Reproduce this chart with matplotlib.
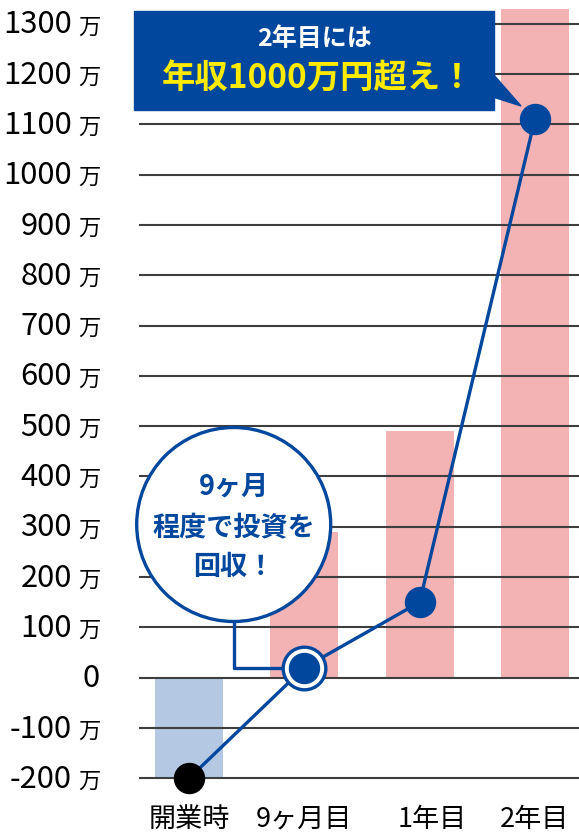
import matplotlib.pyplot as plt
from matplotlib.patches import Rectangle, Ellipse, Polygon
from matplotlib.transforms import blended_transform_factory

plt.rcParams['font.family'] = ['Noto Sans CJK JP', 'DejaVu Sans']

# data
categories = ['開業時', '9ヶ月目', '1年目', '2年目']
bar_values = [-200, 290, 490, 1330]
line_values = [-200, 20, 150, 1110]
y_ticks = [-200, -100, 0, 100, 200, 300, 400, 500, 600, 700,
           800, 900, 1000, 1100, 1200, 1300]

W, H = 579, 840
blue = '#00479D'
pink = '#F3B2B4'
lightblue = '#B4C8E3'
grid_col = '#3E3E3E'

fig = plt.figure(figsize=(W / 100, H / 100), dpi=100)
ax = fig.add_axes([139 / W, 0, 1 - 139 / W, 1])

x = list(range(len(categories)))
bar_colors = [lightblue, pink, pink, pink]
ax.bar(x, bar_values, width=0.59, color=bar_colors, zorder=1)

ax.set_xlim(-0.434, 3.383)
ax.set_ylim(-322.7, 1347.3)
ax.set_yticks(y_ticks)
ax.grid(axis='y', color=grid_col, lw=1.5)
ax.set_axisbelow(False)
ax.tick_params(length=0, labelleft=False, labelbottom=False)
for s in ax.spines.values():
    s.set_visible(False)

# line + markers
ax.plot(x, line_values, color=blue, lw=2.4, zorder=4)
ax.plot(x[0], line_values[0], 'o', color='black', ms=21.6, zorder=5)
ax.plot(x[2:], line_values[2:], 'o', color=blue, ms=21.6, zorder=5)
ax.plot(x[1], line_values[1], 'o', mfc='white', mec=blue, mew=2.4, ms=30.7, zorder=5)
ax.plot(x[1], line_values[1], 'o', color=blue, ms=21.6, zorder=6)

# y labels (number + small 万)
tr = blended_transform_factory(fig.transFigure, ax.transData)
for v in y_ticks:
    if v == 0:
        ax.text(100 / W, v - 19, '0', transform=tr, ha='right', va='baseline',
                fontsize=22.3, clip_on=False)
    else:
        ax.text(72 / W, v - 19, str(v), transform=tr, ha='right', va='baseline',
                fontsize=22.3, clip_on=False)
        ax.text(78 / W, v - 19, '万', transform=tr, ha='left', va='baseline',
                fontsize=16, clip_on=False)

# category labels (1年目 sits a little right of its bar in the original)
label_shift = [0, 0, 0.11, 0]
for i, c in enumerate(categories):
    ax.text(i + label_shift[i], -281, c, ha='center', va='center', fontsize=19.5,
            clip_on=False)


def fx(px):
    return px / W


def fy(py):
    return 1 - py / H


# top callout box
ax.add_patch(Rectangle((fx(134), fy(110)), fx(494) - fx(134), fy(10.7) - fy(110),
                       transform=fig.transFigure, color=blue, zorder=8, clip_on=False))
ax.add_patch(Polygon([(fx(493), fy(74)), (fx(521), fy(106)), (fx(493), fy(97))],
                     closed=True, transform=fig.transFigure, color=blue, zorder=8,
                     clip_on=False))
fig.text(fx(314), fy(39), '2年目には', ha='center', va='center', color='white',
         fontsize=18, fontweight='bold', zorder=9)
fig.text(fx(318), fy(78), '年収1000万円超え！', ha='center', va='center',
         color='#FFEB00', fontsize=24, fontweight='bold', zorder=9)

# round callout
ax.add_patch(Ellipse((fx(233.7), fy(524.5)), 2 * 97 / W, 2 * 97 / H,
                     transform=fig.transFigure, facecolor='white', edgecolor=blue,
                     lw=2.4, zorder=7, clip_on=False))
ax.plot([fx(233.5), fx(233.5), fx(284)], [fy(621), fy(668), fy(668)],
        transform=fig.transFigure, color=blue, lw=2.4, zorder=4, clip_on=False)
for txt, py in [('9ヶ月', 486.7), ('程度で投資を', 527.5), ('回収！', 566.7)]:
    fig.text(fx(234), fy(py), txt, ha='center', va='center', color=blue,
             fontsize=19.5, fontweight='bold', zorder=9)

fig.savefig('out.png', dpi=100)
